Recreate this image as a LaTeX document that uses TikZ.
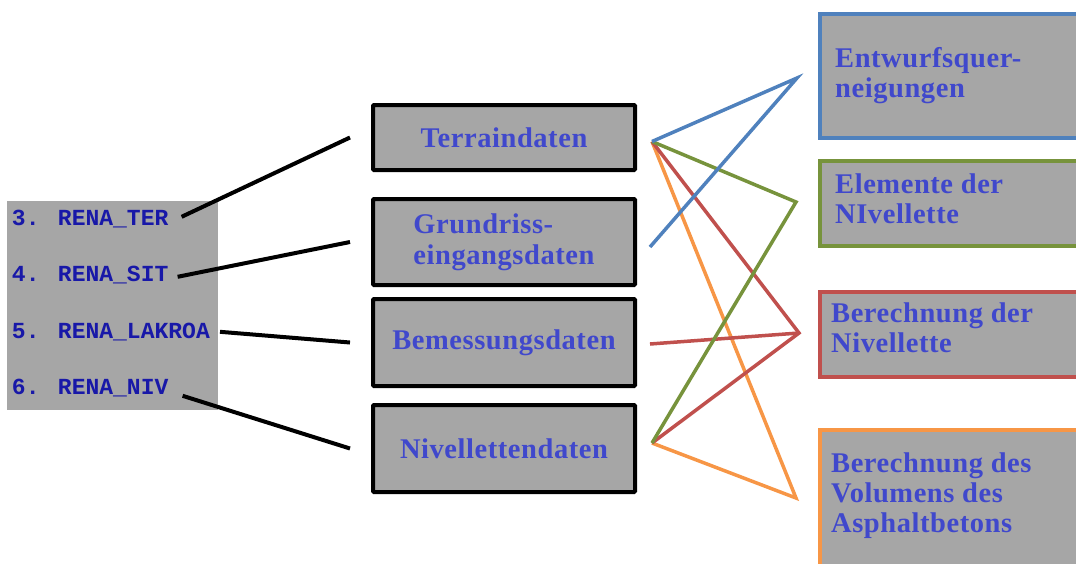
\documentclass[tikz,border=0pt]{standalone}
\usepackage{fontspec}
\usepackage{xcolor}
\usetikzlibrary{positioning}
\newfontfamily\boxfont[LetterSpace=2]{Liberation Serif}
\newfontfamily\renafont{Liberation Mono}
\definecolor{boxgray}{RGB}{166,166,166}
\definecolor{txtblue}{RGB}{64,72,204}
\definecolor{renablue}{RGB}{24,24,168}
\definecolor{lnblue}{RGB}{79,129,189}
\definecolor{lngreen}{RGB}{119,147,60}
\definecolor{lnred}{RGB}{192,80,77}
\definecolor{lnorange}{RGB}{247,150,70}
\tikzset{
  databox/.style={draw=black, line width=4pt, fill=boxgray, rounded corners=1pt, minimum width=262pt, inner sep=0pt, align=left, text=txtblue, font=\boxfont\bfseries\fontsize{28.5}{31}\selectfont},
  resultbox/.style={draw=#1, line width=4pt, fill=boxgray, minimum width=270pt, inner sep=0pt},
  resulttext/.style={anchor=north west, inner sep=0pt, align=left, text=txtblue, font=\boxfont\bfseries\fontsize{28.5}{30}\selectfont},
  renalabel/.style={inner sep=0pt, text=renablue, font=\renafont\bfseries\fontsize{23}{23}\selectfont},
  feed/.style={line width=4pt, black},
  flow/.style={line width=3.5pt, #1},
}
\begin{document}
\begin{tikzpicture}[x=1pt, y=-1pt]

  \useasboundingbox (0,0) rectangle (1076,563);
  \clip (0,0) rectangle (1076,563);

  % program list
  \node[fill=boxgray, minimum width=211pt, minimum height=209pt, inner sep=0pt] (renabox) at (112.5,305.5) {};
  \node[renalabel, anchor=west] (lTer) at ([shift={(5pt,-18pt)}]renabox.north west) {3. RENA\_TER};
  \node[renalabel, below=56pt of lTer.west, anchor=west] (lSit) {4. RENA\_SIT};
  \node[renalabel, below=57pt of lSit.west, anchor=west] (lLak) {5. RENA\_LAKROA};
  \node[renalabel, below=56pt of lLak.west, anchor=west] (lNiv) {6. RENA\_NIV};

  % input data
  \node[databox, minimum height=65pt] (terrain) at (504,137.5) {Terraindaten};
  \node[databox, minimum height=86pt] (grund) at (504,242) {Grundriss-\\eingangsdaten};
  \node[databox, minimum height=87pt] (bemess) at (504,342.5) {Bemessungsdaten};
  \node[databox, minimum height=87pt] (nivdat) at (504,448.5) {Nivellettendaten};

  % results
  \node[resultbox=lnblue, minimum height=124pt] (entw) at (955,76) {};
  \node[resultbox=lngreen, minimum height=85pt] (elem) at (955,203.5) {};
  \node[resultbox=lnred, minimum height=85pt] (bnlev) at (955,334.5) {};
  \node[resultbox=lnorange, minimum height=136pt] (vol) at (955,498) {};
  \node[resulttext] (entwtxt) at ([shift={(17pt,-35pt)}]entw.north west) {Entwurfsquer-\\neigungen};
  \node[resulttext] (elemtxt) at ([shift={(17pt,-15pt)}]elem.north west) {Elemente der\\NIvellette};
  \node[resulttext] (bnlevtxt) at ([shift={(13pt,-13pt)}]bnlev.north west) {Berechnung der\\Nivellette};
  \node[resulttext] (voltxt) at ([shift={(13pt,-25pt)}]vol.north west) {Berechnung des\\Volumens des\\Asphaltbetons};

  % program -> data
  \draw[feed] ([shift={(13pt,2pt)}]lTer.east) -- ([xshift=-21pt]terrain.west);
  \draw[feed] ([shift={(9pt,-2pt)}]lSit.east) -- ([xshift=-21pt]grund.west);
  \draw[feed] ([xshift=10pt]lLak.east) -- ([xshift=-21pt]bemess.west);
  \draw[feed] ([shift={(14pt,-8pt)}]lNiv.east) -- ([xshift=-21pt]nivdat.west);

  % data -> results
  \coordinate (tR) at ([shift={(15pt,-4pt)}]terrain.east);
  \coordinate (gR) at ([shift={(13pt,-5pt)}]grund.east);
  \coordinate (bR) at ([shift={(13pt,-1.5pt)}]bemess.east);
  \coordinate (nR) at ([shift={(15pt,5.5pt)}]nivdat.east);
  \coordinate (eL) at ([shift={(-21pt,-2pt)}]entw.west);
  \coordinate (elL) at ([shift={(-22pt,1.5pt)}]elem.west);
  \coordinate (bnL) at ([shift={(-19pt,1.5pt)}]bnlev.west);
  \coordinate (vL) at ([xshift=-22pt]vol.west);

  \draw[flow=lnorange] (tR) -- (vL) -- (nR);
  \draw[flow=lnred] (tR) -- (bnL) -- (nR);
  \draw[flow=lnred] (bR) -- (bnL);
  \draw[flow=lngreen] (tR) -- (elL) -- (nR);
  \draw[flow=lnblue] (gR) -- (eL) -- (tR);

\end{tikzpicture}
\end{document}
